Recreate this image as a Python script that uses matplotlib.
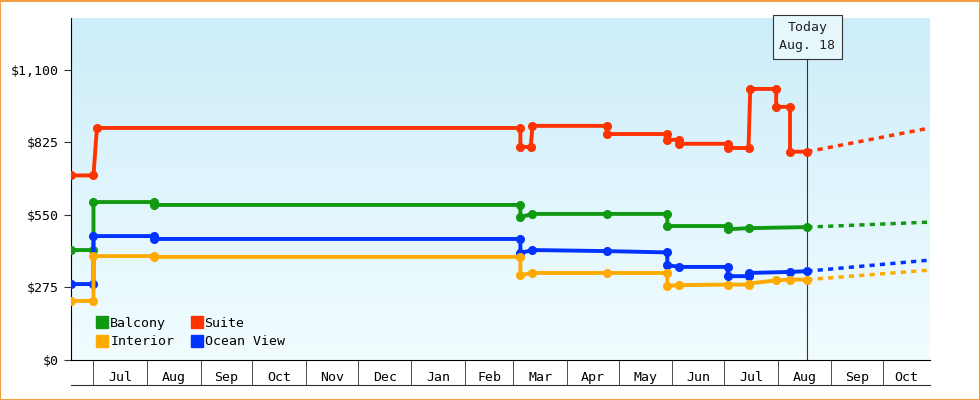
import matplotlib
matplotlib.use("Agg")
import matplotlib.pyplot as plt
import matplotlib.dates as mdates
import numpy as np
import datetime as dt
from matplotlib.lines import Line2D

D = lambda s: mdates.date2num(dt.datetime.strptime(s, "%Y-%m-%d"))

# (date, price) points; consecutive points with same date = price change
suite_dates = ["2024-06-18","2024-07-01","2024-07-03","2025-03-05","2025-03-05","2025-03-11","2025-03-12","2025-04-24","2025-04-24","2025-05-29","2025-05-29","2025-06-05","2025-06-05","2025-07-03","2025-07-03","2025-07-15","2025-07-16","2025-07-31","2025-07-31","2025-08-08","2025-08-08","2025-08-18"]
suite_vals  = [700,700,880,880,808,808,888,888,857,857,835,835,820,820,804,804,1028,1028,960,960,790,790]
balc_dates = ["2024-06-18","2024-07-01","2024-07-01","2024-08-05","2024-08-05","2025-03-05","2025-03-05","2025-03-12","2025-04-24","2025-05-29","2025-05-29","2025-07-03","2025-07-03","2025-07-15","2025-08-18"]
balc_vals  = [417,417,599,599,588,588,542,554,554,554,508,508,496,500,504]
ocean_dates = ["2024-06-18","2024-07-01","2024-07-01","2024-08-05","2024-08-05","2025-03-05","2025-03-05","2025-03-12","2025-04-24","2025-05-29","2025-05-29","2025-06-05","2025-07-03","2025-07-03","2025-07-15","2025-07-15","2025-08-08","2025-08-18"]
ocean_vals  = [288,288,470,470,459,459,406,417,413,408,360,353,353,318,318,330,334,337]
int_dates = ["2024-06-18","2024-07-01","2024-07-01","2024-08-05","2024-08-05","2025-03-05","2025-03-05","2025-03-12","2025-04-24","2025-05-29","2025-05-29","2025-06-05","2025-07-03","2025-07-15","2025-07-15","2025-07-31","2025-08-08","2025-08-18"]
int_vals  = [224,224,394,394,391,391,322,330,330,330,281,284,286,286,290,302,305,305]
proj_end = "2025-10-28"
proj_vals = {"Suite": 880, "Balcony": 523, "Ocean View": 379, "Interior": 341}

colors = {"Balcony": "#119911", "Suite": "#ff3300", "Interior": "#ffaa00", "Ocean View": "#0033ff"}
series = [("Suite", suite_dates, suite_vals), ("Balcony", balc_dates, balc_vals),
          ("Ocean View", ocean_dates, ocean_vals), ("Interior", int_dates, int_vals)]

fig = plt.figure(figsize=(9.8, 4), dpi=100)
fig.patch.set_facecolor("white")
fig.patches.append(plt.Rectangle((0.0005, 0.001), 0.999, 0.997, transform=fig.transFigure,
                                 fill=False, edgecolor="#f0a040", linewidth=1.5))
ax = fig.add_axes([71/980, 40/400, (930-71)/980, (360-18)/400])
xmin, xmax = D("2024-06-18"), D(proj_end)
ymax = 1297
ax.set_xlim(xmin, xmax); ax.set_ylim(0, ymax)
grad = np.linspace(1, 0, 256).reshape(-1, 1)
top = np.array([0.80, 0.93, 0.98]); bot = np.array([0.95, 0.99, 1.0])
img = bot + (top - bot) * grad[..., None]
ax.imshow(img, extent=[xmin, xmax, 0, ymax], aspect="auto", zorder=0)

today = D("2025-08-18")
for name, ds, vs in series:
    x = [D(d) for d in ds]
    ax.plot(x, vs, color=colors[name], lw=2.8, marker="o", ms=5.5, zorder=3)
    ax.plot([today, xmax], [vs[-1], proj_vals[name]], color=colors[name], lw=2.5,
            ls=(0, (1.5, 1.5)), zorder=3)

ax.axvline(today, color="#333333", lw=0.8, zorder=2)
ax.text(today, 1225, "Today\nAug. 18", ha="center", va="center", fontsize=9.5,
        family="DejaVu Sans Mono", color="#222222", linespacing=1.5,
        bbox=dict(boxstyle="square,pad=0.5", fc="#e6f7fc", ec="#333333", lw=0.8), zorder=5)

yt = [0, 275, 550, 825, 1100]
ax.set_yticks(yt)
ax.set_yticklabels(["$0", "$275", "$550", "$825", "$1,100"], family="DejaVu Sans Mono", fontsize=9.5)
ax.tick_params(axis="y", length=5, color="#333333")

bounds = [D(f"{y}-{m:02d}-01") for y, m in [(2024,7),(2024,8),(2024,9),(2024,10),(2024,11),(2024,12),(2025,1),(2025,2),(2025,3),(2025,4),(2025,5),(2025,6),(2025,7),(2025,8),(2025,9),(2025,10)]]
labels = ["Jul","Aug","Sep","Oct","Nov","Dec","Jan","Feb","Mar","Apr","May","Jun","Jul","Aug","Sep","Oct"]
edges = bounds + [xmax]
mids = [(edges[i] + edges[i+1]) / 2 for i in range(len(bounds))]
ax.set_xticks(bounds, minor=True)
ax.set_xticks(mids)
ax.set_xticklabels(labels, family="DejaVu Sans Mono", fontsize=9.5)
ax.tick_params(axis="x", which="major", length=0, pad=8)
ax.tick_params(axis="x", which="minor", length=18, color="#333333")
for s in ["top", "right"]:
    ax.spines[s].set_visible(False)
ax.plot([0, 1], [-25/342, -25/342], transform=ax.transAxes, color="#333333", lw=0.8, clip_on=False)

order = ["Balcony", "Interior", "Suite", "Ocean View"]
handles = [Line2D([], [], ls="none", marker="s", ms=9, color=colors[n]) for n in order]
ax.legend(handles, order, ncol=2, loc="lower left", bbox_to_anchor=(0.015, 0.0), frameon=False,
          prop={"family": "DejaVu Sans Mono", "size": 9.5}, handletextpad=0.1, columnspacing=1.2,
          labelspacing=0.4, handlelength=1)

fig.savefig("out.png", dpi=100)
